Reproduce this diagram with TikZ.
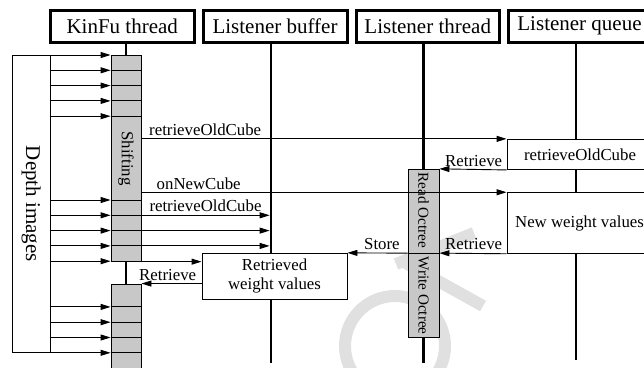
\documentclass[tikz,border=0pt]{standalone}
\usepackage{fontspec}
\setmainfont{Liberation Serif}
\usetikzlibrary{arrows.meta}
\definecolor{barfill}{RGB}{200,200,200}
\definecolor{wmark}{RGB}{224,224,224}
\begin{document}
\begin{tikzpicture}[x=1pt,y=-1pt,
  hdr/.style={draw,line width=3pt,fill=white,minimum height=31.5pt,inner sep=0pt,font=\fontsize{21}{24}\selectfont},
  life/.style={line width=2.8pt},
  thinline/.style={line width=0.9pt},
  msg/.style={line width=0.9pt,-{Triangle[length=10pt,width=6pt]}},
  lbl/.style={font=\fontsize{16.8}{19}\selectfont,inner sep=0pt},
  barlbl/.style={font=\fontsize{15.2}{17}\selectfont,inner sep=0pt,rotate=-90},
  actbar/.style={draw,line width=0.9pt,fill=barfill,inner sep=0pt},
  wbox/.style={draw,line width=0.9pt,fill=white,inner sep=0pt,font=\fontsize{16.8}{19.5}\selectfont,align=center}]

\clip (0,0) rectangle (644,367);

% watermark
\draw[wmark,line width=12pt] (395,346) circle[radius=50pt];
\draw[wmark,line width=12pt] (474,233) -- (396,264);
\draw[wmark,line width=12pt] (404,262) -- (483,306);

% headers
\node[hdr,minimum width=143.5pt] (kinfu) at (122.25,26.25) {KinFu thread};
\node[hdr,minimum width=144pt] (buffer) at (275,26.25) {Listener buffer};
\node[hdr,minimum width=143.5pt] (thread) at (427.75,26.25) {Listener thread};
\node[hdr,minimum width=143pt] (queue) at (579.5,26.25) {Listener queue};

% lifeline ends
\coordinate (kinfuEnd) at (126,390);
\coordinate (bufferEnd) at (271,362.7);
\coordinate (threadEnd) at (423.5,362.7);
\coordinate (queueEnd) at (576,360);
\draw[life] (kinfu.south -| kinfuEnd) -- (kinfuEnd);
\draw[life] (buffer.south -| bufferEnd) -- (bufferEnd);
\draw[life] (thread.south -| threadEnd) -- (threadEnd);
\draw[life] (queue.south -| queueEnd) -- (queueEnd);

% depth images
\node[draw,thinline,minimum width=37.5pt,minimum height=297.8pt,inner sep=0pt] (depth) at (31.25,203.9) {};
\node[rotate=-90,inner sep=0pt,font=\fontsize{21}{24}\selectfont] (depthtxt) at (depth.center) {Depth images};

% activation bars
\node[actbar,minimum width=30pt,minimum height=206.2pt] (bar1) at (126,158.1) {};
\node[actbar,minimum width=30pt,minimum height=110pt] (bar2) at (126,339) {};
\node[actbar,minimum width=31pt,minimum height=167.7pt] (tbar) at (423.5,253.15) {};

% boxes
\node[wbox,minimum width=146pt,minimum height=30.2pt] (rocbox) at (580,154.4) {retrieveOldCube};
\node[wbox,minimum width=145pt,minimum height=60.6pt] (nwbox) at (579.5,223) {New weight values};
\node[wbox,minimum width=145pt,minimum height=45.7pt] (retbox) at (274.5,276.15) {Retrieved\\weight values};

% depth images -> KinFu
\foreach \y in {55,70.3,85.6,100.9,116.2,200,215.3,230.6,245.9,261.2}
  \draw[msg] (depth.east |- 0,\y) -- (bar1.west |- 0,\y);
\foreach \y in {306.9,322.2,337.5,352.8}
  \draw[msg] (depth.east |- 0,\y) -- (bar2.west |- 0,\y);
\foreach \y in {70.3,85.6,100.9,116.2,200,215.3,230.6,245.9}
  \draw[thinline] (bar1.west |- 0,\y) -- (bar1.east |- 0,\y);
\foreach \y in {306.9,322.2,337.5,352.8}
  \draw[thinline] (bar2.west |- 0,\y) -- (bar2.east |- 0,\y);

% KinFu -> others
\coordinate (bufLeft) at (269.6,0);
\draw[msg] (bar1.east |- rocbox.north) -- (rocbox.north west);
\draw[msg] (bar1.east |- nwbox.north) -- (nwbox.north west);
\foreach \y in {215.3,230.6,245.9}
  \draw[msg] (bar1.east |- 0,\y) -- (bufLeft |- 0,\y);
\draw[msg] (bar1.south east) -- (retbox.west |- bar1.south east);
\draw[msg] (retbox.west |- bar2.north east) -- (bar2.north east);

% thread interactions
\draw[msg] (rocbox.south west) -- (tbar.north east);
\draw[msg] (nwbox.south west) -- (tbar.east);
\draw[thinline] (tbar.west) -- (tbar.east);
\draw[msg] (tbar.west) -- (retbox.north east);

% labels
\node[lbl,anchor=base west] (l1) at (149,135.5) {retrieveOldCube};
\node[lbl,anchor=base west] (l2) at (156.5,189.5) {onNewCube};
\node[lbl,anchor=base west] (l3) at (149.3,211.8) {retrieveOldCube};
\node[lbl,anchor=base west] (l4) at (445,166) {Retrieve};
\node[lbl,anchor=base west] (l5) at (445,249.5) {Retrieve};
\node[lbl,anchor=base west] (l6) at (364,249.5) {Store};
\node[lbl,anchor=base west] (l7) at (139,280.5) {Retrieve};

% bar texts
\node[lbl,rotate=-90] (shift) at (126,158.4) {Shifting};
\node[barlbl] (readoct) at (423.5,210.5) {Read Octree};
\node[barlbl] (writeoct) at (423.5,295.5) {Write Octree};
\end{tikzpicture}
\end{document}
